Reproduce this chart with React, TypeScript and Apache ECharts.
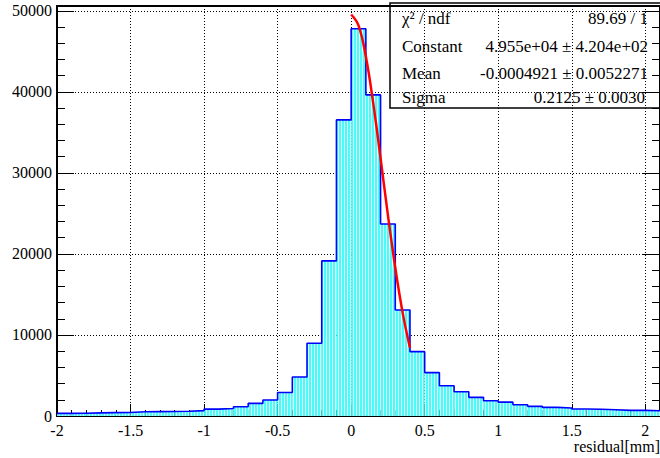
import React, { useEffect, useRef } from 'react';
import * as echarts from 'echarts';

// Histogram bins (lower edges, width 0.1) and counts
const binLow = [
  -2.0, -1.9, -1.8, -1.7, -1.6, -1.5, -1.4, -1.3, -1.2, -1.1,
  -1.0, -0.9, -0.8, -0.7, -0.6, -0.5, -0.4, -0.3, -0.2, -0.1,
  0.0, 0.1, 0.2, 0.3, 0.4, 0.5, 0.6, 0.7, 0.8, 0.9,
  1.0, 1.1, 1.2, 1.3, 1.4, 1.5, 1.6, 1.7, 1.8, 1.9, 2.0,
];
const binWidth = 0.1;
const counts = [
  330, 340, 380, 420, 440, 520, 540, 560, 580, 660,
  850, 930, 1150, 1560, 1980, 2900, 4820, 8980, 19140, 36540,
  47800, 39630, 23700, 13090, 7940, 5350, 3740, 3000, 2300, 1890,
  1710, 1380, 1190, 1070, 990, 860, 830, 780, 700, 700, 650,
];

// Gaussian fit curve points
const fitX = [0, 0.05, 0.1, 0.15, 0.2, 0.25, 0.3, 0.35, 0.4];
const fitY = [49550, 48200, 44360, 38620, 31820, 24800, 18290, 12760, 8430];

// Stats box text
const statNames = ['χ² / ndf', 'Constant', 'Mean', 'Sigma'];
const statValues = ['89.69 / 1', '4.955e+04 ± 4.204e+02', '-0.0004921 ± 0.0052271', '0.2125 ± 0.0030'];
const statRowY = [18, 46, 73, 97];

const xTitle = 'residual[mm]';

const FAMILY = 'Liberation Serif';
const FONT = 'Liberation Serif, serif';

function makeFill(): any {
  try {
    const c = document.createElement('canvas');
    c.width = 3;
    c.height = 4;
    const ctx = c.getContext('2d');
    if (!ctx) return '#72f7f7';
    ctx.fillStyle = '#4dfafa';
    ctx.fillRect(0, 0, 2, 4);
    ctx.fillStyle = '#d8ffff';
    ctx.fillRect(2, 0, 1, 4);
    return { image: c, repeat: 'repeat' };
  } catch (e) {
    return '#72f7f7';
  }
}

export default function App() {
  const ref = useRef<HTMLDivElement>(null);

  useEffect(() => {
    document.body.style.margin = '0';
    if (!ref.current) return;
    const chart = echarts.init(ref.current, undefined, { renderer: 'svg' });

    const histData = binLow.map((lo, i) => [lo, lo + binWidth, counts[i]]);
    const outline = binLow.map((lo, i) => [lo, counts[i]]);
    outline.push([binLow[binLow.length - 1] + binWidth, counts[counts.length - 1]]);
    const fitData = fitX.map((x, i) => [x, fitY[i]]);
    const fill = makeFill();

    const xMin = -2;
    const xMax = 2.1;
    const yMax = 50600;

    const graphics: any[] = [
      {
        type: 'rect',
        shape: { x: 390, y: 3, width: 300, height: 105 },
        style: { fill: 'none', stroke: '#000', lineWidth: 1.5 },
        z: 10,
      },
      {
        type: 'text',
        x: 660,
        y: 446,
        style: {
          text: xTitle,
          font: `16px ${FONT}`,
          fill: '#000',
          textAlign: 'right',
          textVerticalAlign: 'middle',
        },
        z: 10,
      },
    ];
    statNames.forEach((n, i) => {
      graphics.push({
        type: 'text',
        x: 402,
        y: statRowY[i],
        style: { text: n, font: `17px ${FONT}`, fill: '#000', textAlign: 'left', textVerticalAlign: 'middle' },
        z: 10,
      });
      graphics.push({
        type: 'text',
        x: i === 3 ? 645 : 648,
        y: statRowY[i],
        style: { text: statValues[i], font: `17px ${FONT}`, fill: '#000', textAlign: 'right', textVerticalAlign: 'middle' },
        z: 10,
      });
    });

    const dotted = { color: '#000', width: 1, type: [1, 2] as any };
    const plain = (v: number) => String(Math.round(v * 1000) / 1000);

    chart.setOption({
      animation: false,
      textStyle: { fontFamily: FAMILY },
      grid: {
        left: 57,
        right: 0,
        top: 6,
        bottom: 42,
        show: true,
        borderColor: '#000',
        borderWidth: 2,
        backgroundColor: 'transparent',
      },
      xAxis: [
        {
          type: 'value',
          min: xMin,
          max: xMax,
          interval: 0.5,
          position: 'bottom',
          axisLine: { show: true, onZero: false, lineStyle: { color: '#000', width: 2 } },
          axisTick: { show: true, inside: true, length: 12, lineStyle: { color: '#000', width: 1 } },
          axisLabel: { show: true, showMaxLabel: false, fontSize: 16, color: '#000', margin: 6, fontFamily: FAMILY, formatter: plain },
          splitLine: { show: true, lineStyle: dotted },
        },
        {
          type: 'value',
          min: xMin,
          max: xMax,
          interval: 0.1,
          position: 'bottom',
          axisLine: { show: false, onZero: false },
          axisTick: { show: true, inside: true, length: 6, lineStyle: { color: '#000', width: 1 } },
          axisLabel: { show: false },
          splitLine: { show: false },
        },
      ],
      yAxis: [
        {
          type: 'value',
          min: 0,
          max: yMax,
          interval: 10000,
          position: 'left',
          axisLine: { show: true, onZero: false, lineStyle: { color: '#000', width: 2 } },
          axisTick: { show: true, inside: true, length: 17, lineStyle: { color: '#000', width: 1 } },
          axisLabel: { show: true, showMaxLabel: false, fontSize: 16, color: '#000', margin: 5, fontFamily: FAMILY, formatter: plain },
          splitLine: { show: true, lineStyle: dotted },
        },
        {
          type: 'value',
          min: 0,
          max: yMax,
          interval: 2000,
          position: 'left',
          axisLine: { show: false, onZero: false },
          axisTick: { show: true, inside: true, length: 8, lineStyle: { color: '#000', width: 1 } },
          axisLabel: { show: false },
          splitLine: { show: false },
        },
        {
          type: 'value',
          min: 0,
          max: yMax,
          interval: 10000,
          position: 'right',
          axisLine: { show: false, onZero: false },
          axisTick: { show: true, inside: true, length: 17, lineStyle: { color: '#000', width: 1 } },
          axisLabel: { show: false },
          splitLine: { show: false },
        },
        {
          type: 'value',
          min: 0,
          max: yMax,
          interval: 2000,
          position: 'right',
          axisLine: { show: false, onZero: false },
          axisTick: { show: true, inside: true, length: 8, lineStyle: { color: '#000', width: 1 } },
          axisLabel: { show: false },
          splitLine: { show: false },
        },
      ],
      series: [
        {
          type: 'custom',
          name: 'hist',
          xAxisIndex: 0,
          yAxisIndex: 0,
          data: histData,
          encode: { x: [0, 1], y: 2 },
          clip: true,
          renderItem: (params: any, api: any) => {
            const p0 = api.coord([api.value(0), api.value(2)]);
            const p1 = api.coord([api.value(1), 0]);
            return {
              type: 'rect',
              shape: { x: p0[0], y: p0[1], width: p1[0] - p0[0], height: p1[1] - p0[1] },
              style: { fill, stroke: null },
            };
          },
          z: 2,
        },
        {
          type: 'line',
          name: 'outline',
          xAxisIndex: 0,
          yAxisIndex: 0,
          data: outline,
          step: 'end',
          symbol: 'none',
          lineStyle: { color: '#0000ff', width: 1.6 },
          clip: true,
          z: 3,
        },
        {
          type: 'line',
          name: 'fit',
          xAxisIndex: 0,
          yAxisIndex: 0,
          data: fitData,
          smooth: 0.4,
          symbol: 'none',
          lineStyle: { color: '#ff0000', width: 2.5 },
          clip: true,
          z: 4,
        },
      ],
      graphic: graphics,
    });

    return () => {
      chart.dispose();
    };
  }, []);

  return <div ref={ref} style={{ width: 660, height: 458 }} />;
}
